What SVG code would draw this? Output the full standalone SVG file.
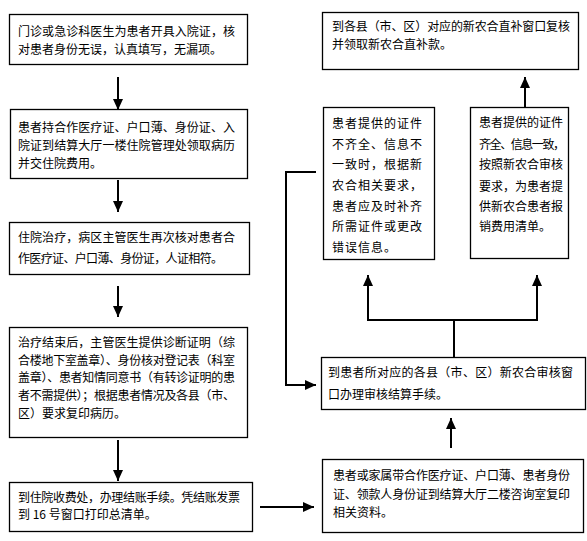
<svg xmlns="http://www.w3.org/2000/svg" width="587" height="541" viewBox="0 0 587 541">
<defs>
<marker id="ah" markerUnits="userSpaceOnUse" markerWidth="12" markerHeight="12" viewBox="0 0 12 12" refX="11" refY="6" orient="auto">
<path d="M0,1 L11,6 L0,11 Z" fill="#000"/>
</marker>
<style>
.box{fill:#fff;stroke:#000;stroke-width:1.3}
.t{font-family:"Noto Sans CJK SC","Noto Sans CJK JP",sans-serif;font-size:12px;fill:#000}
.ls{letter-spacing:1px}
.c{fill:none;stroke:#000;stroke-width:2}
.a{fill:none;stroke:#000;stroke-width:2;marker-end:url(#ah)}
</style>
</defs>
<rect width="587" height="541" fill="#fff"/>

<g id="n1">
<rect class="box" x="9.5" y="14.5" width="238" height="50"/>
<text class="t" x="18" y="36" textLength="217" lengthAdjust="spacing">门诊或急诊科医生为患者开具入院证，核</text>
<text class="t" x="18" y="54">对患者身份无误，认真填写，无漏项。</text>
</g>
<g id="n2">
<rect class="box" x="10.5" y="109.5" width="237" height="69"/>
<text class="t" x="18" y="132" textLength="217" lengthAdjust="spacing">患者持合作医疗证、户口薄、身份证、入</text>
<text class="t" x="18" y="150" textLength="217" lengthAdjust="spacing">院证到结算大厅一楼住院管理处领取病历</text>
<text class="t" x="18" y="168">并交住院费用。</text>
</g>
<g id="n3">
<rect class="box" x="9.5" y="222.5" width="240" height="52"/>
<text class="t" x="18" y="242" textLength="217" lengthAdjust="spacing">住院治疗，病区主管医生再次核对患者合</text>
<text class="t" x="18" y="263" textLength="205" lengthAdjust="spacing">作医疗证、户口薄、身份证，人证相符。</text>
</g>
<g id="n4">
<rect class="box" x="9.5" y="327.5" width="238" height="110"/>
<text class="t" x="18" y="347" textLength="217" lengthAdjust="spacing">治疗结束后，主管医生提供诊断证明（综</text>
<text class="t" x="18" y="365" textLength="217" lengthAdjust="spacing">合楼地下室盖章）、身份核对登记表（科室</text>
<text class="t" x="18" y="382" textLength="217" lengthAdjust="spacing">盖章）、患者知情同意书（有转诊证明的患</text>
<text class="t" x="18" y="400" textLength="217" lengthAdjust="spacing">者不需提供）；根据患者情况及各县（市、</text>
<text class="t" x="18" y="418">区）要求复印病历。</text>
</g>
<g id="n5">
<rect class="box" x="9.5" y="482.5" width="243" height="49"/>
<text class="t" x="18" y="502" textLength="222" lengthAdjust="spacing">到住院收费处，办理结账手续。凭结账发票</text>
<text class="t" x="18" y="519">到 16 号窗口打印总清单。</text>
</g>
<g id="n6">
<rect class="box" x="322.5" y="12.5" width="256" height="57"/>
<text class="t" x="332" y="31" textLength="238" lengthAdjust="spacing">到各县（市、区）对应的新农合直补窗口复核</text>
<text class="t" x="332" y="49">并领取新农合直补款。</text>
</g>
<g id="n7">
<rect class="box" x="323.5" y="107.5" width="111" height="152"/>
<text class="t ls" x="332" y="128">患者提供的证件</text>
<text class="t ls" x="332" y="149">不齐全、信息不</text>
<text class="t ls" x="332" y="169">一致时，根据新</text>
<text class="t ls" x="332" y="190">农合相关要求，</text>
<text class="t ls" x="332" y="211">患者应及时补齐</text>
<text class="t ls" x="332" y="231">所需证件或更改</text>
<text class="t ls" x="332" y="252">错误信息。</text>
</g>
<g id="n8">
<rect class="box" x="470.5" y="107.5" width="98" height="151"/>
<text class="t" x="479" y="127">患者提供的证件</text>
<text class="t" x="479" y="149" textLength="86" lengthAdjust="spacing">齐全、信息一致，</text>
<text class="t" x="479" y="169">按照新农合审核</text>
<text class="t" x="479" y="191">要求，为患者提</text>
<text class="t" x="479" y="211">供新农合患者报</text>
<text class="t" x="479" y="231">销费用清单。</text>
</g>
<g id="n9">
<rect class="box" x="321.5" y="357.5" width="264" height="52"/>
<text class="t" x="328" y="377" textLength="245" lengthAdjust="spacing">到患者所对应的各县（市、区）新农合审核窗</text>
<text class="t" x="328" y="399">口办理审核结算手续。</text>
</g>
<g id="n10">
<rect class="box" x="322.5" y="459.5" width="261" height="73"/>
<text class="t" x="333" y="480" textLength="237" lengthAdjust="spacing">患者或家属带合作医疗证、户口薄、患者身份</text>
<text class="t" x="333" y="499" textLength="237" lengthAdjust="spacing">证、领款人身份证到结算大厅二楼咨询室复印</text>
<text class="t" x="333" y="517">相关资料。</text>
</g>

<g id="connectors">
<line class="a" x1="118" y1="77" x2="118" y2="110"/>
<line class="a" x1="118" y1="180" x2="118" y2="212"/>
<line class="a" x1="118" y1="286" x2="118" y2="317"/>
<line class="a" x1="118" y1="440" x2="118" y2="481"/>
<polyline class="a" points="316,172 286,172 286,385 316,385"/>
<line class="a" x1="260" y1="507" x2="314" y2="507"/>
<line class="a" x1="451" y1="448" x2="451" y2="418"/>
<line class="c" x1="454" y1="357" x2="454" y2="320"/>
<line class="c" x1="367" y1="320" x2="538" y2="320"/>
<line class="a" x1="368" y1="320" x2="368" y2="275"/>
<line class="a" x1="537" y1="320" x2="537" y2="275"/>
<line class="a" x1="525" y1="107" x2="525" y2="77"/>
</g>
</svg>
